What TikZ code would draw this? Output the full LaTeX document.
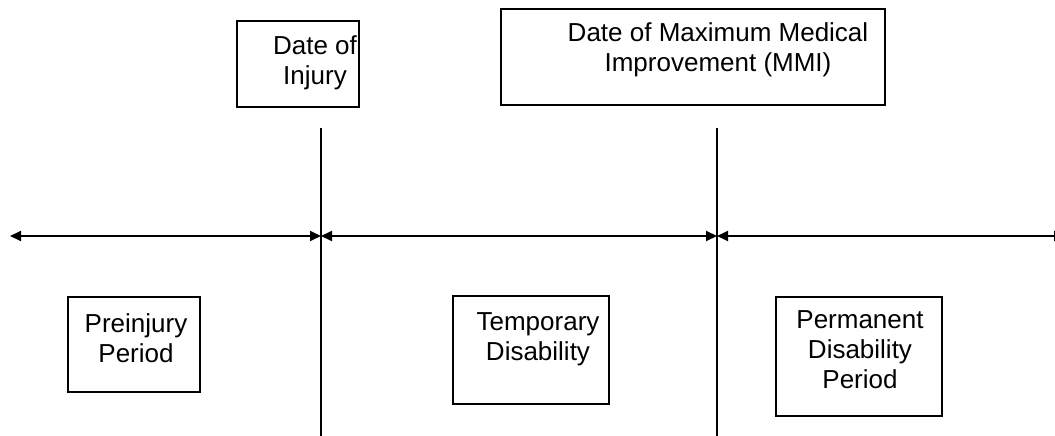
\documentclass[tikz,border=0pt]{standalone}
\usepackage{fontspec}
\setmainfont{Liberation Sans}
\usetikzlibrary{arrows.meta}
\begin{document}
\begin{tikzpicture}[x=1pt,y=-1pt,
  box/.style={draw=black,line width=2pt,inner sep=0pt,fill=none},
  lbl/.style={anchor=north,inner sep=0pt,align=center,
    font=\fontsize{26}{30}\selectfont},
  axis/.style={line width=2pt,{Triangle[length=11pt,width=10pt]}-{Triangle[length=11pt,width=10pt]}},
  marker/.style={line width=2pt}]
\useasboundingbox (0,0) rectangle (1055,436);

% event boxes above the time line
\node[box,minimum width=122pt,minimum height=86pt] (inj) at (298,64) {};
\node[box,minimum width=384pt,minimum height=96pt] (mmi) at (693,57) {};
% period boxes below the time line
\node[box,minimum width=132pt,minimum height=95pt] (pre) at (134,344.5) {};
\node[box,minimum width=156pt,minimum height=108pt] (tmp) at (531,350) {};
\node[box,minimum width=166pt,minimum height=119pt] (perm) at (859,356.5) {};

% box texts
\node[lbl] (injT) at (315,35) {Date of\\Injury};
\node[lbl] (mmiT) at (718,22) {Date of Maximum Medical\\Improvement (MMI)};
\node[lbl] (preT) at (136,313) {Preinjury\\Period};
\node[lbl] (tmpT) at (538,312) {Temporary\\Disability};
\node[lbl] (permT) at (860,310) {Permanent\\Disability\\Period};

% vertical event markers
\coordinate (v1top) at (321,128);
\coordinate (v1bot) at (321,436);
\coordinate (v2top) at (717,128);
\coordinate (v2bot) at (717,436);
\draw[marker] (v1top) -- (v1bot);
\draw[marker] (v2top) -- (v2bot);

% time line segments
\coordinate (tl0) at (10,236);
\coordinate (tl1) at (321,236);
\coordinate (tl2) at (717,236);
\coordinate (tl3) at (1065,236);
\draw[axis] (tl0) -- (tl1);
\draw[axis] (tl1) -- (tl2);
\draw[axis] (tl2) -- (tl3);
\end{tikzpicture}
\end{document}
